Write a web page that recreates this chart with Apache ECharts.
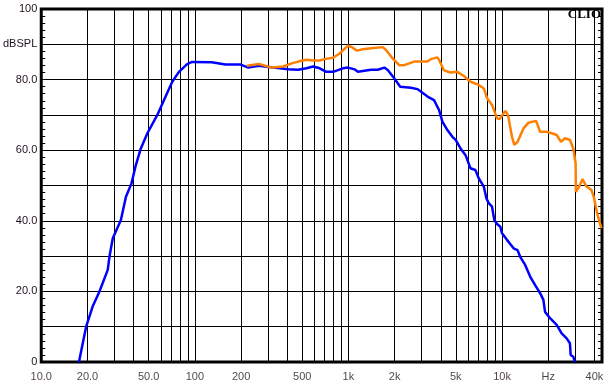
<!DOCTYPE html>
<html>
<head>
<meta charset="utf-8">
<script src="https://cdn.jsdelivr.net/npm/echarts@6/dist/echarts.min.js"></script>
<style>
html,body{margin:0;padding:0;background:#fff;}
#chart{width:610px;height:389px;}
</style>
</head>
<body>
<div id="chart"></div>
<script>
// ---- data ----
const blueFreq = [17.6,19.6,21.6,23.9,27.1,27.8,29.2,33.0,35.6,38.7,41.3,44.5,49.1,57.0,64.5,71.3,78.8,89.1,96,129,158,197,223,259,316,405,471,533,589,650,718,794,921,993,1096,1152,1271,1405,1552,1714,1803,1987,2174,2551,2818,2958,3273,3608,3890,4090,4410,4750,4990,5370,5790,6230,6710,7060,7610,7910,8190,8610,8910,9280,9750,10000,10770,11890,12620,13130,14150,15250,16430,17700,18600,19060,20540,22700,24450,26350,27680,27990,29100,29850];
const blueDb = [0,10.0,15.7,19.9,26.1,29.8,35.0,40.2,46.8,50.6,55.8,60.5,64.8,70.0,75.2,79.4,82.2,84.4,85.0,84.9,84.3,84.3,83.4,83.9,83.5,82.9,82.8,83.2,83.7,83.2,82.2,82.2,83.2,83.4,82.9,82.2,82.5,82.8,82.8,83.4,82.7,80.4,78.0,77.7,77.3,76.6,75.2,74.2,71.4,68.1,65.7,63.8,62.9,60.5,58.6,54.9,54.4,52.0,49.7,46.4,45.0,44.0,40.2,39.1,38.3,36.5,34.6,32.2,31.7,29.8,27.5,24.2,21.8,19.5,17.6,14.2,12.4,10.5,8.1,6.7,5.3,2.0,1.5,0];
const orangeFreq = [218,262,316,377,427,471,533,589,650,700,794,877,993,1043,1135,1241,1405,1673,1758,1941,2143,2307,2679,3273,3436,3795,3890,4190,4626,5118,5643,6233,7063,7610,7998,8612,9285,9600,10500,10940,11610,12020,12630,13810,14870,16670,17700,19550,21080,22700,24220,25700,27680,29100,30140,30280,31790,33420,35470,38240,39580,41180,42190,44380];
const orangeDb = [83.9,84.4,83.4,83.7,84.6,85.1,85.6,85.4,85.4,85.8,86.2,87.4,89.6,89.3,88.2,88.6,88.9,89.2,88.4,86.0,84.1,84.1,85.1,85.1,85.8,86.3,85.6,82.6,82.0,82.2,81.0,79.4,78.5,77.5,74.7,72.8,69.0,68.8,71.1,70.0,63.8,61.5,62.4,66.2,67.8,68.3,65.2,65.2,64.8,64.3,62.4,63.4,62.9,60.5,56.3,48.2,49.7,51.8,49.7,48.7,46.8,43.1,41.2,37.9];
const xTickFreqs = [10,20,50,100,200,500,1000,2000,5000,10000,20000,40000];
const xTickLabels = ['10.0','20.0','50.0','100','200','500','1k','2k','5k','10k','Hz','40k'];
const gridFreqs = [20,30,40,50,60,70,80,90,100,200,300,400,500,600,700,800,900,1000,2000,3000,4000,5000,6000,7000,8000,9000,10000,20000,30000,40000];
const yTickValues = [0,20,40,60,80,90,100];
const yTickLabels = ['0','20.0','40.0','60.0','80.0','dBSPL','100'];
const xMin = 10, xMax = 44770;

const pairs = (fs, ds) => fs.map((f, i) => [f, ds[i]]);
const labelColor = '#201020';
const font = 'Liberation Sans, Arial, sans-serif';

const chart = echarts.init(document.getElementById('chart'), null, {renderer: 'canvas'});
chart.setOption({
  animation: false,
  backgroundColor: '#fff',
  title: {
    text: 'CLIO', right: 9, top: 8, padding: 0,
    textStyle: {fontFamily: 'Liberation Serif, serif', fontWeight: 'bold', fontSize: 13, color: '#000'}
  },
  grid: {left: 38, right: 8, top: 9, bottom: 27, show: true, borderColor: '#000', borderWidth: 3, backgroundColor: 'transparent'},
  xAxis: {
    type: 'log', logBase: 10, min: xMin, max: xMax,
    axisLine: {show: false}, axisTick: {show: false}, axisLabel: {show: false},
    splitLine: {show: false}, minorTick: {show: false}, minorSplitLine: {show: false}
  },
  yAxis: [{
    type: 'value', min: 0, max: 100, interval: 10, position: 'left',
    axisLine: {show: false},
    axisTick: {show: false, inside: true},
    minorTick: {show: true, splitNumber: 5, length: 4, lineStyle: {color: '#000', width: 1}},
    splitLine: {show: true, lineStyle: {color: '#000', width: 1}},
    axisLabel: {
      margin: 4, color: labelColor, fontFamily: font, fontSize: 11,
      formatter: v => { const i = yTickValues.indexOf(v); return i >= 0 ? yTickLabels[i] : ''; }
    }
  }, {
    type: 'value', min: 0, max: 100, interval: 10, position: 'right',
    axisLine: {show: false},
    axisTick: {show: false, inside: true},
    minorTick: {show: true, splitNumber: 5, length: 4, lineStyle: {color: '#000', width: 1}},
    splitLine: {show: false},
    axisLabel: {show: false}
  }],
  series: [
    {
      type: 'scatter', name: 'labels', clip: false, silent: true, z: 1,
      symbolSize: 1, itemStyle: {color: 'rgba(0,0,0,0)'},
      data: xTickFreqs.map((f, i) => ({value: [f, 0], name: xTickLabels[i]})),
      label: {show: true, position: 'bottom', distance: 9, formatter: '{b}', color: labelColor, fontFamily: font, fontSize: 11},
      markLine: {
        silent: true, symbol: 'none', animation: false,
        label: {show: false},
        lineStyle: {color: '#000', width: 1, type: 'solid'},
        data: gridFreqs.map(f => ({xAxis: f}))
      }
    },
    {
      type: 'line', name: 'blue', z: 10, symbol: 'none', smooth: false,
      lineStyle: {color: '#0000ff', width: 2.5}, itemStyle: {color: '#0000ff'},
      data: pairs(blueFreq, blueDb)
    },
    {
      type: 'line', name: 'orange', z: 10, symbol: 'none', smooth: false,
      lineStyle: {color: '#ff8000', width: 2.5}, itemStyle: {color: '#ff8000'},
      data: pairs(orangeFreq, orangeDb)
    }
  ]
});
</script>
</body>
</html>
